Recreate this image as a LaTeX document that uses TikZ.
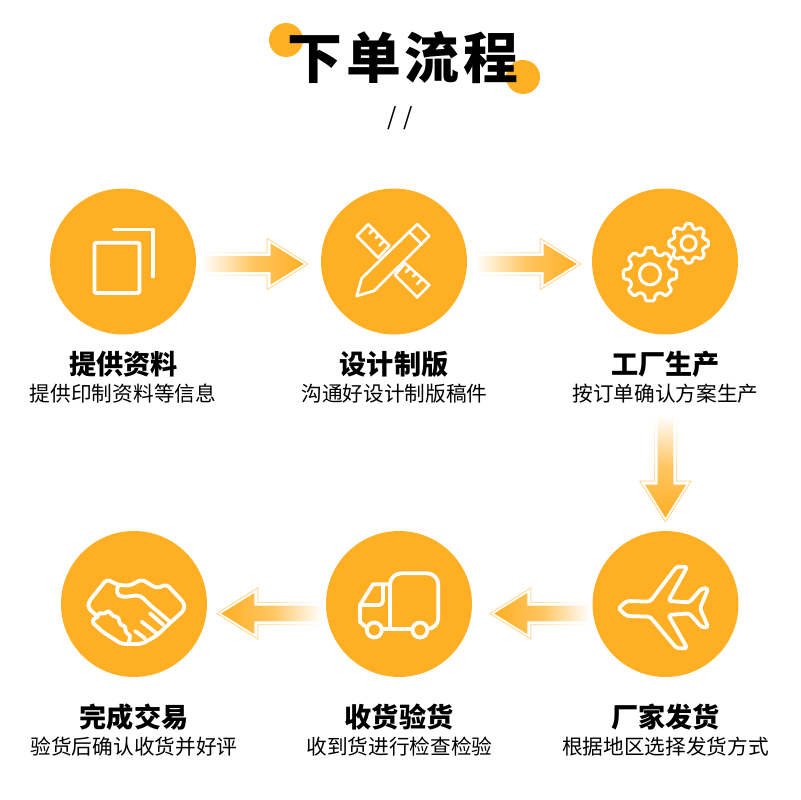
\documentclass[tikz,border=0pt]{standalone}
\usepackage{fontspec}
\newfontfamily\cjk{Noto Sans CJK SC}
\newfontfamily\cjktitle{Noto Sans CJK SC Black}
\usetikzlibrary{calc}
\definecolor{stepc}{HTML}{FFAF24}
\def\px{0.7112pt}
\tikzset{
  stepcircle/.style={circle, fill=stepc, inner sep=0pt, minimum size=103.8pt},
  steptitle/.style={inner sep=0pt, font=\cjk\bfseries\fontsize{19.3pt}{20pt}\selectfont},
  stepnote/.style={inner sep=0pt, font=\cjk\fontsize{14.7pt}{16pt}\selectfont},
  icon/.style={draw=white, line width=2.7pt, line join=round, line cap=round},
  thinicon/.style={draw=white, line width=1.9pt, line join=round, line cap=round}
}
% one polygon of a block arrow: style, tail, tip, head length, shaft half, head half
\newcommand{\arrowpoly}[6]{
  \coordinate (hb) at ($(#3)!#4*\px!(#2)$);
  \path[#1] ($(#2)!#5*\px!90:(#3)$) -- ($(hb)!#5*\px!90:(#3)$) -- ($(hb)!#6*\px!90:(#3)$) -- (#3)
    -- ($(hb)!#6*\px!-90:(#3)$) -- ($(hb)!#5*\px!-90:(#3)$) -- ($(#2)!#5*\px!-90:(#3)$) -- cycle;
}
% block arrow: tail, tip, side of the tail, side of the tip
\newcommand{\flowarrow}[4]{
  \coordinate (tipm) at ($(#2)!1.5*\px!(#1)$);
  \coordinate (tipi) at ($(#2)!5*\px!(#1)$);
  \arrowpoly{shade, #3 color=white, #4 color=stepc!60, middle color=stepc!40}{#1}{#2}{42}{11.5}{26.5}
  \arrowpoly{fill=white}{#1}{tipm}{39.5}{10.5}{24.5}
  \arrowpoly{shade, #3 color=white, #4 color=stepc, middle color=stepc!72}{#1}{tipi}{33}{7.8}{20.5}
}
% gear outline and hole: centre, outer radius, root radius, hole radius
\newcommand{\gearicon}[4]{
  \begin{scope}[shift={#1}]
    \draw[icon, line width=2.2pt, rounded corners=1.2pt] (-14:#3) \foreach \a in {0,45,...,315} {
      -- (\a-14:#3) -- (\a-10:#2) -- (\a+10:#2) -- (\a+14:#3) } -- cycle;
    \draw[icon, line width=2.2pt] (0,0) circle (#4);
  \end{scope}
}
\begin{document}
\begin{tikzpicture}[x=0.025cm, y=-0.025cm]
  \useasboundingbox (0,0) rectangle (800,800);

  % Title
  \fill[stepc] (286,40) circle (17);
  \fill[stepc] (523,77) circle (17);
  \node[inner sep=0pt, font=\cjktitle\fontsize{39pt}{40pt}\selectfont] (title) at (403,58) {下\kern2.6pt 单\kern2.6pt 流\kern2.6pt 程};
  \node[inner sep=0pt, font=\cjk\fontsize{17pt}{18pt}\selectfont] (slashes) at (400,118) {/\kern5pt /};

  % Steps
  \node[stepcircle] (ziliao) at (123,261.5) {};
  \node[stepcircle] (sheji) at (394,261.5) {};
  \node[stepcircle] (shengchan) at (665,261.5) {};
  \node[stepcircle] (fahuo) at (665.5,604) {};
  \node[stepcircle] (yanhuo) at (399,604) {};
  \node[stepcircle] (jiaoyi) at (134,604) {};

  % Labels
  \node[steptitle] (ziliaot) at (123.5,364) {提供资料};
  \node[stepnote] (ziliaon) at (123,394) {提供印制资料等信息};
  \node[steptitle] (shejit) at (394,364) {设计制版};
  \node[stepnote] (shejin) at (394.5,394) {沟通好设计制版稿件};
  \node[steptitle] (shengchant) at (665.5,364) {工厂生产};
  \node[stepnote] (shengchann) at (665.5,394) {按订单确认方案生产};
  \node[steptitle] (fahuot) at (665.5,717) {厂家发货};
  \node[stepnote] (fahuon) at (665.5,747) {根据地区选择发货方式};
  \node[steptitle] (yanhuot) at (399,717) {收货验货};
  \node[stepnote] (yanhuon) at (399.5,747) {收到货进行检查检验};
  \node[steptitle] (jiaoyit) at (134,717) {完成交易};
  \node[stepnote] (jiaoyin) at (134,747) {验货后确认收货并好评};

  % Arrows
  \coordinate (atail) at ($(ziliao.east)+(6,2.5)$);
  \coordinate (atip) at ($(sheji.west)+(-12,2.5)$);
  \coordinate (btail) at ($(sheji.east)+(8,2.5)$);
  \coordinate (btip) at ($(shengchan.west)+(-10,2.5)$);
  \coordinate (ctail) at ($(shengchann.south)+(0,11)$);
  \coordinate (ctip) at ($(fahuo.north)+(0,-8)$);
  \coordinate (dtail) at ($(fahuo.west)+(-2,9.5)$);
  \coordinate (dtip) at ($(yanhuo.east)+(17,9.5)$);
  \coordinate (etail) at ($(yanhuo.west)+(-4,9.5)$);
  \coordinate (etip) at ($(jiaoyi.east)+(9,9.5)$);
  \flowarrow{atail}{atip}{left}{right}
  \flowarrow{btail}{btip}{left}{right}
  \flowarrow{ctail}{ctip}{top}{bottom}
  \flowarrow{dtail}{dtip}{right}{left}
  \flowarrow{etail}{etip}{right}{left}

  % Copy icon
  \draw[icon, rounded corners=1pt] (94.5,242.7) rectangle (139.5,293);
  \draw[icon] (114,229.5) -- (152.7,229.5) -- (152.7,276.5);

  % Pencil and ruler icon
  \draw[thinicon] (356.7,296) -- (361.7,278.3) -- (417.3,224) -- (429.3,236) -- (374.3,290.7) -- cycle;
  \draw[thinicon] (410,232.7) -- (421.7,244.3);
  \draw[thinicon] (389.3,245.7) -- (368.3,224.3) -- (356.7,236) -- (378.3,257.7) -- cycle;
  \draw[thinicon] (405,263.3) -- (429.3,285) -- (417.3,297.3) -- (395,275) -- cycle;
  \draw[thinicon] (373.5,229.5) -- (369.5,233.5) (379,235) -- (376,238) (384.5,240.5) -- (379.5,245.5);
  \draw[thinicon] (410,268) -- (406,272) (416,273.5) -- (413,276.5) (422,279) -- (417,284);

  % Gears icon
  \gearicon{(650,274.3)}{27}{21}{10.5}
  \gearicon{(688.7,243.3)}{20}{15.5}{7.5}

  % Plane icon
  \begin{scope}[shift={(480,400)}, scale=1/3]
    \draw[icon, rounded corners=2pt] (415,625) -- (440,603) -- (510,605) -- (590,500) -- (622,500) -- (565,603)
      -- (628,607) -- (665,565) -- (685,565) -- (660,625) -- (685,682) -- (665,682) -- (628,640)
      -- (565,645) -- (622,745) -- (590,745) -- (510,650) -- (440,648) -- cycle;
  \end{scope}

  % Truck icon
  \draw[icon, rounded corners=8pt] (390,629) -- (390,573.3) -- (438.3,573.3) -- (438.3,629) -- (428,629);
  \draw[icon] (382,629) -- (412,629);
  \draw[icon] (390,584.3) -- (373,584.3) -- (360,605) -- (360,622) -- (366,627);
  \draw[icon, rounded corners=3pt] (383,585) -- (383,605) -- (360,605);
  \draw[icon] (374.3,630) circle (7.5);
  \draw[icon] (420,630) circle (7.5);

  % Handshake icon
  \begin{scope}[shift={(50,525)}, scale=1/3]
    \draw[icon, rounded corners=2.5pt] (140,272) -- (115,250) -- (115,232) -- (170,163) -- (205,180) -- (240,182) -- (275,163)
      -- (320,190) -- (350,178) -- (403,235) -- (403,255) -- (362,292) -- (320,332) -- (275,357) -- (215,357) -- (160,322) -- (130,295);
    \draw[icon, rounded corners=3pt] (205,180) -- (198,205) -- (215,217) -- (270,210) -- (300,240) -- (362,292);
    \draw[icon] (300,265) -- (340,300) (275,290) -- (320,325) (255,318) -- (285,340);
    \draw[icon, rounded corners=2pt] (130,295) -- (128,280) -- (145,278) -- (145,262) -- (165,268) -- (175,255) -- (190,275) -- (205,275)
      -- (210,300) -- (228,303) -- (225,322) -- (242,330) -- (235,357);
  \end{scope}
\end{tikzpicture}
\end{document}
